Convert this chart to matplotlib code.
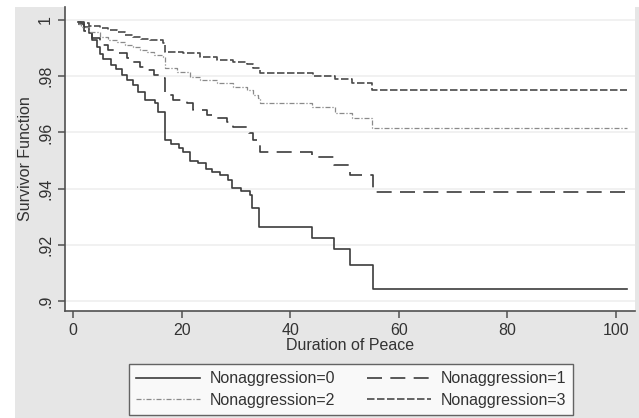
import matplotlib
matplotlib.use("Agg")
import matplotlib.pyplot as plt
from matplotlib.patches import Rectangle

plt.rcParams['font.family'] = ['Liberation Sans', 'DejaVu Sans']

# survivor function estimates (time, S(t))
t0 = [1, 2, 3, 3.5, 4.5, 5, 5.5, 7, 8, 9, 10, 11, 12, 13.3, 15.1, 15.7, 17, 18, 19.5,
      20.3, 21.5, 23, 24.5, 25.6, 27, 28.5, 29.3, 31, 32.6, 33, 34.3, 44, 48, 51, 55.2, 102]
s0 = [0.9993, 0.9975, 0.9955, 0.9929, 0.9905, 0.9880, 0.9860, 0.9840, 0.9825, 0.9805,
      0.9785, 0.9768, 0.9745, 0.9715, 0.9705, 0.9673, 0.9573, 0.9560, 0.9545, 0.9530,
      0.9500, 0.9491, 0.9470, 0.9459, 0.9448, 0.9430, 0.9402, 0.9390, 0.9377, 0.9331,
      0.9263, 0.9224, 0.9185, 0.9128, 0.9043, 0.9043]

t1 = [1, 2, 3.5, 5, 6.5, 8.1, 9.9, 11, 12.3, 13.6, 15, 16.6, 17, 18.4, 21, 22.1, 24.7,
      26.5, 28.4, 29.5, 32, 32.5, 33.2, 34.4, 44, 48, 51, 55.2, 102]
s1 = [0.9985, 0.9960, 0.9935, 0.9910, 0.9895, 0.9883, 0.9865, 0.9850, 0.9833, 0.9822,
      0.9805, 0.9794, 0.9733, 0.9715, 0.9705, 0.9680, 0.9662, 0.9651, 0.9637, 0.9619,
      0.9609, 0.9598, 0.9573, 0.9530, 0.9512, 0.9484, 0.9448, 0.9388, 0.9388]

t2 = [1, 1.5, 3, 5, 6.5, 8.1, 9.5, 11, 12.3, 13.6, 15, 16.6, 17, 19.2, 21.5, 23.4, 26.5,
      29.5, 32, 33.1, 34.1, 34.4, 44, 48.2, 51.4, 55.1, 102]
s2 = [0.9985, 0.9975, 0.9958, 0.9940, 0.9930, 0.9922, 0.9912, 0.9904, 0.9895, 0.9886,
      0.9877, 0.9868, 0.9829, 0.9815, 0.9797, 0.9786, 0.9776, 0.9762, 0.9751, 0.9733,
      0.9722, 0.9705, 0.9690, 0.9669, 0.9651, 0.9616, 0.9616]

t3 = [1, 1.5, 3, 5, 6.5, 8.1, 9.5, 11, 12.5, 14.2, 16.6, 17, 20.3, 23.4, 26.5, 29.5,
      32, 33.1, 34.4, 44.2, 48.2, 51.4, 55.1, 102]
s3 = [0.9993, 0.9989, 0.9980, 0.9972, 0.9965, 0.9957, 0.9948, 0.9940, 0.9934, 0.9929,
      0.9918, 0.9886, 0.9883, 0.9868, 0.9858, 0.9851, 0.9843, 0.9829, 0.9811, 0.9801,
      0.9790, 0.9776, 0.9751, 0.9751]

labels = ['Nonaggression=0', 'Nonaggression=1', 'Nonaggression=2', 'Nonaggression=3']
xticks = [0, 20, 40, 60, 80, 100]
yticks = [0.9, 0.92, 0.94, 0.96, 0.98, 1.0]
ytick_labels = ['.9', '.92', '.94', '.96', '.98', '1']

W, H = 639, 418
fig = plt.figure(figsize=(W / 100, H / 100), dpi=100)
fig.patch.set_facecolor('white')
fig.patches.append(Rectangle((15 / W, 0), 1, (H - 7) / H, transform=fig.transFigure,
                             facecolor='#e6e6e6', edgecolor='none', zorder=-10))

ax = fig.add_axes([65 / W, 1 - 311 / H, 570 / W, 304 / H])
ax.set_facecolor('white')

dark = '#3c3c3c'
l0, = ax.step(t0, s0, where='post', color=dark, lw=1.2, label=labels[0])
l1, = ax.step(t1, s1, where='post', color=dark, lw=1.2, dashes=(9, 5), label=labels[1])
l2, = ax.step(t2, s2, where='post', color='#8a8a8a', lw=0.9,
              dashes=(4, 1.5, 1, 1.5), label=labels[2])
l3, = ax.step(t3, s3, where='post', color='#4a4a4a', lw=1.2, dashes=(4.5, 1.5),
              label=labels[3])

ax.set_xlim(-1.47, 103.5)
ax.set_ylim(0.89644, 1.00463)
ax.set_xticks(xticks)
ax.set_yticks(yticks)
ax.set_yticklabels(ytick_labels, rotation=90, va='center')
for y in yticks:
    ax.axhline(y, color='#efefef', lw=1.2, zorder=0)

for side in ['top', 'right']:
    ax.spines[side].set_visible(False)
for side in ['left', 'bottom']:
    ax.spines[side].set_color('#505050')
    ax.spines[side].set_linewidth(1.2)
ax.tick_params(direction='out', length=5, width=1.1, color='#505050',
               labelcolor='#333333', labelsize=11.5)

ax.set_xlabel('Duration of Peace', fontsize=11.5, color='#333333', labelpad=0)
ax.set_ylabel('Survivor Function', fontsize=11.5, color='#333333', labelpad=4)

leg = fig.legend([l0, l2, l1, l3], [labels[0], labels[2], labels[1], labels[3]],
                 ncol=2, loc='upper center', bbox_to_anchor=(351 / W, 1 - 364 / H),
                 borderaxespad=0, fontsize=11.5, frameon=True, fancybox=False,
                 handlelength=4.0, handletextpad=0.6, columnspacing=2.0,
                 labelspacing=0.4, borderpad=0.45, labelcolor='#333333')
leg.get_frame().set_edgecolor('#404040')
leg.get_frame().set_linewidth(1.0)

fig.savefig('out.png', dpi=100, facecolor=fig.get_facecolor())
